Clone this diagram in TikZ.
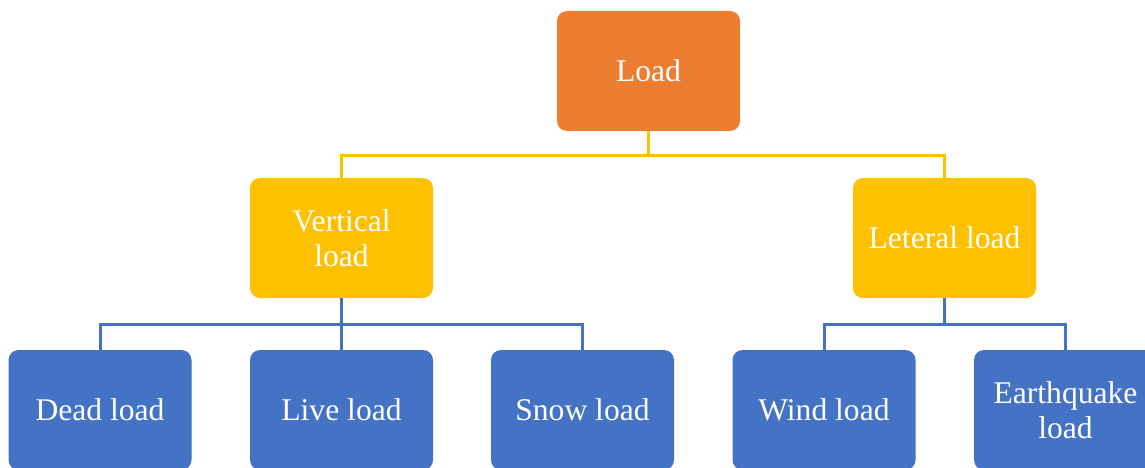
\documentclass[tikz,border=0pt]{standalone}
\usepackage{fontspec}
\setmainfont{Liberation Serif}
\definecolor{orangeC}{HTML}{ED7D31}
\definecolor{yellowC}{HTML}{FFC000}
\definecolor{blueC}{HTML}{4472C4}
\begin{document}
\begin{tikzpicture}[x=1pt,y=-1pt,
  box/.style={rounded corners=10pt, minimum width=183pt, minimum height=120pt, inner sep=0pt,
    text=white, align=center, font=\fontsize{31.6}{35}\selectfont},
  toplevel/.style={box, fill=orangeC},
  midlevel/.style={box, fill=yellowC},
  lowlevel/.style={box, fill=blueC},
  yline/.style={draw=yellowC, line width=3pt},
  bline/.style={draw=blueC, line width=3pt}]
\useasboundingbox (0,0) rectangle (1145,468);
\clip (0,0) rectangle (1145,468);
\node[toplevel] (load) at (648.5,71) {Load};
\node[midlevel] (vert) at (341.5,238) {Vertical\\load};
\node[midlevel] (lat) at (944.5,238) {Leteral load};
\node[lowlevel] (dead) at (100,410) {Dead load};
\node[lowlevel] (live) at (341.5,410) {Live load};
\node[lowlevel] (snow) at (582.5,410) {Snow load};
\node[lowlevel] (wind) at (824,410) {Wind load};
\node[lowlevel] (earth) at (1065.5,410) {Earthquake\\load};
\coordinate (ybus) at (0,155);
\coordinate (bbus) at (0,324);
\draw[yline] (load.south) -- (load.south |- ybus) -| (vert.north);
\draw[yline] (load.south |- ybus) -| (lat.north);
\draw[bline] (vert.south) -- (vert.south |- bbus) -| (dead.north);
\draw[bline] (vert.south |- bbus) -| (snow.north);
\draw[bline] (vert.south) -- (live.north);
\draw[bline] (lat.south) -- (lat.south |- bbus) -| (wind.north);
\draw[bline] (lat.south |- bbus) -| (earth.north);
\end{tikzpicture}
\end{document}
